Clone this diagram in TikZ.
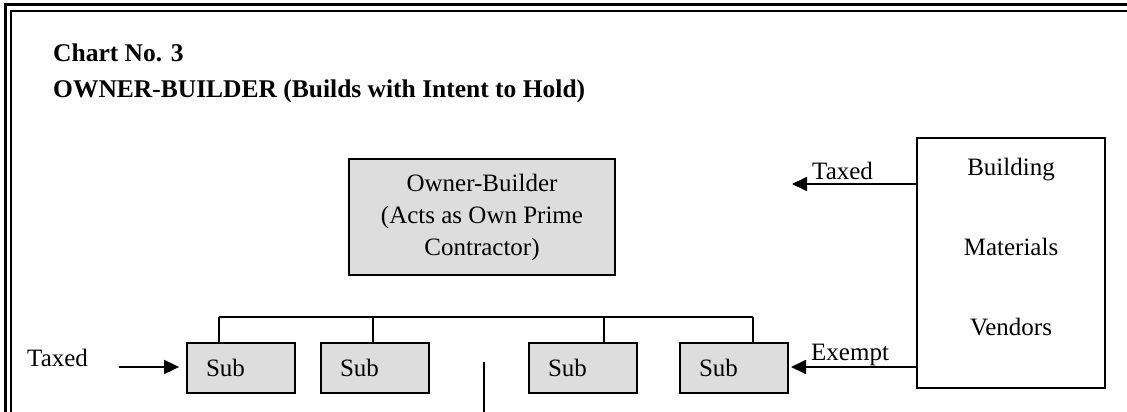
\documentclass[tikz,border=0pt]{standalone}
\usepackage{fontspec}
\setmainfont{Liberation Serif}
\usetikzlibrary{arrows.meta}
\definecolor{boxgray}{RGB}{221,221,221}
\begin{document}
\begin{tikzpicture}[x=1pt,y=-1pt,
  body/.style={font=\fontsize{25}{32}\selectfont},
  ttl/.style={font=\bfseries\fontsize{25.5}{32}\selectfont, inner sep=0pt, anchor=base west},
  graybox/.style={draw=black, line width=1.8pt, fill=boxgray, inner sep=0pt, body},
  subbox/.style={graybox, minimum width=108pt, minimum height=50pt, text width=70pt, inner xsep=19pt, align=left},
  wire/.style={line width=1.5pt},
  arr/.style={-{Triangle[length=15pt,width=14pt]}, line width=1.8pt},
  lbl/.style={body, inner sep=0pt, anchor=base west}]
\useasboundingbox (0,0) rectangle (1127,412);
% page border
\coordinate (bo1) at (5,412); \coordinate (bo2) at (5,5); \coordinate (bo3) at (1127,5);
\coordinate (bi1) at (11,412); \coordinate (bi2) at (11,11); \coordinate (bi3) at (1127,11);
\draw[line width=3pt] (bo1) -- (bo2) -- (bo3);
\draw[line width=1.5pt] (bi1) -- (bi2) -- (bi3);
% title
\node[ttl] (t1) at (53,62) {Chart No. 3};
\node[ttl] (t2) at (53,97) {OWNER-BUILDER (Builds with Intent to Hold)};
% owner-builder
\node[graybox, minimum width=266pt, minimum height=116pt, align=center] (own) at (482,217)
  {Owner-Builder\\(Acts as Own Prime\\Contractor)};
% subs
\node[subbox] (s1) at (241,368) {Sub};
\node[subbox] (s2) at (375,368) {Sub};
\node[subbox] (s3) at (583,368) {Sub};
\node[subbox] (s4) at (734,368) {Sub};
% bus
\coordinate (b1) at (219,317);
\coordinate (b2) at (373,317);
\coordinate (b3) at (604,317);
\coordinate (b4) at (753,317);
\draw[wire] (b1) -- (b4);
\draw[wire] (b1) -- (b1 |- s1.north);
\draw[wire] (b2) -- (b2 |- s2.north);
\draw[wire] (b3) -- (b3 |- s3.north);
\draw[wire] (b4) -- (b4 |- s4.north);
% divider
\coordinate (d1) at (484,362); \coordinate (d2) at (484,412);
\draw[wire] (d1) -- (d2);
% vendors
\node[draw=black, line width=1.8pt, minimum width=188pt, minimum height=250pt, inner sep=0pt] (ven) at (1011,263) {};
\node[body, font=\fontsize{25}{80}\selectfont, align=center, inner sep=0pt] (vent) at (1011,247) {Building\\Materials\\Vendors};
% arrows
\coordinate (tt) at (792,184);
\draw[arr] (ven.west |- tt) -- (tt);
\node[lbl] (ltax) at (812,179) {Taxed};
\coordinate (et) at (791,367);
\draw[arr] (ven.west |- et) -- (et);
\node[lbl] (lex) at (811,360) {Exempt};
\coordinate (lt) at (119,367);
\draw[arr] (lt) -- ([xshift=-7pt]s1.west |- lt);
\node[lbl] (lleft) at (27,366) {Taxed};
\end{tikzpicture}
\end{document}
